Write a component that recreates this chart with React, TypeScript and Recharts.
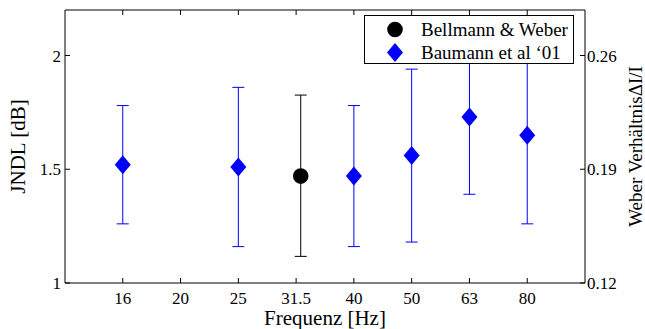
import { ScatterChart, Scatter, XAxis, YAxis, ErrorBar, Legend, ReferenceLine } from "recharts";

const freqLabels = ["16", "20", "25", "31.5", "40", "50", "63", "80"];
const freqTicks = [0, 1, 2, 3, 4, 5, 6, 7];

// Baumann et al '01 (blue diamonds)
const baumannPos = [0, 2, 4, 5, 6, 7];
const baumannMean = [1.52, 1.51, 1.47, 1.56, 1.73, 1.65];
const baumannLow = [1.26, 1.16, 1.16, 1.18, 1.39, 1.26];
const baumannHigh = [1.78, 1.86, 1.78, 1.94, 2.07, 2.04];

// Bellmann & Weber (black circle), drawn a little right of the 31.5 tick
const bellmannPos = [3.08];
const bellmannMean = [1.47];
const bellmannLow = [1.117];
const bellmannHigh = [1.826];

const leftTicks = [1, 1.5, 2];
const rightTicks = [0.12, 0.19, 0.26];
const yDomain = [1, 2.2];

const toRows = (pos: number[], mean: number[], low: number[], high: number[]) =>
  pos.map((p, i) => ({
    pos: p,
    jndl: mean[i],
    err: [mean[i] - low[i], high[i] - mean[i]],
  }));

const baumann = toRows(baumannPos, baumannMean, baumannLow, baumannHigh);
const bellmann = toRows(bellmannPos, bellmannMean, bellmannLow, bellmannHigh);

const FONT = '"Liberation Serif", "Times New Roman", serif';
const TICK_LEN = 5;
// same 5px tick length, in JNDL units (plot is ~228px per dB)
const TOP_TICK_LEN = 0.022;

// MATLAB style ticks: short marks pointing into the plot box
const BottomTick = (props: any) => {
  const { x, y, payload } = props;
  const axisY = y - 8.5;
  return (
    <g>
      <line x1={x} y1={axisY} x2={x} y2={axisY - TICK_LEN} stroke="#000" />
      <text x={x} y={y} dy="0.71em" textAnchor="middle" fill="#000" fontSize={17} fontFamily={FONT}>
        {freqLabels[payload.value]}
      </text>
    </g>
  );
};

const LeftTick = (props: any) => {
  const { x, y, payload } = props;
  const axisX = x + 4;
  return (
    <g>
      <line x1={axisX} y1={y} x2={axisX + TICK_LEN} y2={y} stroke="#000" />
      <text x={x} y={y} dy="0.355em" textAnchor="end" fill="#000" fontSize={17} fontFamily={FONT}>
        {payload.value}
      </text>
    </g>
  );
};

const RightTick = (props: any) => {
  const { x, y, payload } = props;
  const axisX = x - 2;
  return (
    <g>
      <line x1={axisX} y1={y} x2={axisX - TICK_LEN} y2={y} stroke="#000" />
      <text x={x} y={y} dy="0.355em" textAnchor="start" fill="#000" fontSize={17} fontFamily={FONT}>
        {payload.value}
      </text>
    </g>
  );
};

const Diamond = (props: any) => {
  const { cx, cy, fill } = props;
  return (
    <polygon
      points={`${cx},${cy - 9.5} ${cx + 8},${cy} ${cx},${cy + 9.5} ${cx - 8},${cy}`}
      fill={fill}
    />
  );
};

const Dot = (props: any) => {
  const { cx, cy, fill } = props;
  return <circle cx={cx} cy={cy} r={7.8} fill={fill} />;
};

const LegendBox = (props: any) => {
  const { payload = [] } = props;
  const rows = [...payload].sort((a: any, b: any) => (a.type === "circle" ? 0 : 1) - (b.type === "circle" ? 0 : 1));
  return (
    <div
      style={{
        position: "relative",
        border: "1px solid #000",
        background: "#fff",
        width: 208,
        height: 47,
        boxSizing: "content-box",
        fontFamily: FONT,
        fontSize: 19,
        color: "#000",
      }}
    >
      {rows.map((entry: any, i: number) => (
        <div
          key={entry.value}
          style={{ position: "absolute", left: 0, top: i === 0 ? 2 : 25, height: 23, width: 208 }}
        >
          <svg width={20} height={23} style={{ position: "absolute", left: 20, top: 0 }}>
            {entry.type === "diamond" ? (
              <polygon points="10,2 18,11.5 10,21 2,11.5" fill={entry.color} />
            ) : (
              <circle cx={10} cy={11.5} r={7.8} fill={entry.color} />
            )}
          </svg>
          <span style={{ position: "absolute", left: 56, top: 0, lineHeight: "23px", whiteSpace: "nowrap" }}>
            {entry.value}
          </span>
        </div>
      ))}
    </div>
  );
};

export default function App() {
  return (
    <div style={{ position: "absolute", left: 0, top: 0, background: "#fff", fontFamily: FONT }}>
      <ScatterChart width={645} height={329} margin={{ top: 9, right: 0, bottom: 0, left: 0 }}>
        <XAxis
          type="number"
          dataKey="pos"
          domain={[-1, 8]}
          allowDataOverflow
          ticks={freqTicks}
          height={46}
          axisLine={{ stroke: "#000" }}
          tickLine={false}
          tickSize={0}
          tickMargin={8.5}
          tick={<BottomTick />}
          interval={0}
          label={{ value: "Frequenz [Hz]", position: "insideBottom", offset: 4, fill: "#000", fontSize: 21, fontFamily: FONT }}
        />
        <XAxis
          xAxisId="top"
          orientation="top"
          type="number"
          domain={[-1, 8]}
          allowDataOverflow
          height={1}
          axisLine={{ stroke: "#000" }}
          tickLine={false}
          tick={false}
        />
        <YAxis
          type="number"
          dataKey="jndl"
          domain={yDomain}
          allowDataOverflow
          ticks={leftTicks}
          width={65}
          axisLine={{ stroke: "#000" }}
          tickLine={false}
          tickSize={0}
          tickMargin={4}
          tick={<LeftTick />}
          interval={0}
          label={{
            value: "JNDL [dB]",
            angle: -90,
            position: "insideLeft",
            offset: 18,
            fill: "#000",
            fontSize: 21,
            fontFamily: FONT,
            style: { textAnchor: "middle" },
          }}
        />
        <YAxis
          yAxisId="right"
          orientation="right"
          type="number"
          domain={[0.12, 0.288]}
          allowDataOverflow
          ticks={rightTicks}
          width={60}
          axisLine={{ stroke: "#000" }}
          tickLine={false}
          tickSize={0}
          tickMargin={2}
          tick={<RightTick />}
          interval={0}
          label={{
            value: "Weber VerhältnisΔI/I",
            angle: -90,
            position: "insideRight",
            offset: 9.5,
            fill: "#000",
            fontSize: 19,
            fontFamily: FONT,
            style: { textAnchor: "middle" },
          }}
        />
        {freqTicks.map((t) => (
          <ReferenceLine
            key={t}
            segment={[
              { x: t, y: yDomain[1] },
              { x: t, y: yDomain[1] - TOP_TICK_LEN },
            ]}
            stroke="#000"
            strokeWidth={1}
          />
        ))}
        <Scatter
          name="Bellmann & Weber"
          data={bellmann}
          fill="#000"
          shape={Dot}
          legendType="circle"
          isAnimationActive={false}
        >
          <ErrorBar dataKey="err" direction="y" width={6} stroke="#000" strokeWidth={1} />
        </Scatter>
        <Scatter
          name="Baumann et al ‘01"
          data={baumann}
          fill="#0000ff"
          shape={Diamond}
          legendType="diamond"
          isAnimationActive={false}
        >
          <ErrorBar dataKey="err" direction="y" width={6} stroke="#0000ff" strokeWidth={1} />
        </Scatter>
        <Legend
          layout="horizontal"
          verticalAlign="middle"
          align="center"
          content={<LegendBox />}
          wrapperStyle={{ top: 15, left: 364, width: 210, height: 49 }}
        />
      </ScatterChart>
    </div>
  );
}
